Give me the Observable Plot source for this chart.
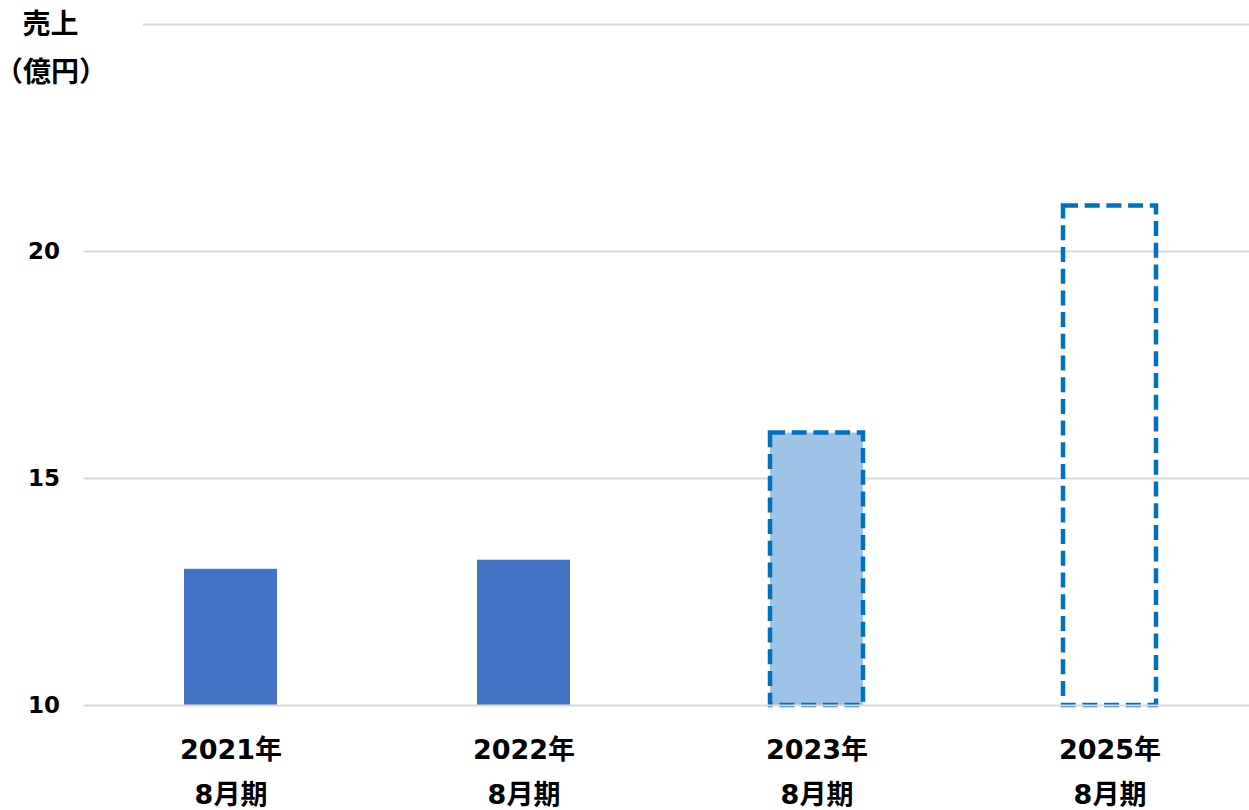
<!DOCTYPE html>
<html>
<head>
<meta charset="utf-8">
<script src="https://cdn.jsdelivr.net/npm/d3@7"></script>
<script src="https://cdn.jsdelivr.net/npm/@observablehq/plot@0.6"></script>
<style>
  html, body { margin: 0; padding: 0; background: #fff; }
  #chart { width: 1249px; height: 810px; }
</style>
</head>
<body>
<div id="chart"></div>
<script>
// Fiscal years (August year-end) and sales in 100 million yen
const years = ["2021年", "2022年", "2023年", "2025年"];
const periods = ["8月期", "8月期", "8月期", "8月期"];
const sales = [13.0, 13.2, 16.0, 21.0];
const yTicks = [10, 15, 20];
const yTop = 25;
const unitLines = ["売上", "（億円）"];

const rows = years.map((year, i) => ({ year, period: periods[i], sales: sales[i] }));
const actual = rows.slice(0, 2);   // results
const outlook = rows.slice(2, 3);  // forecast
const target = rows.slice(3);      // plan

const font = "'DejaVu Sans', 'Noto Sans CJK JP', sans-serif";
const base = yTicks[0];
const grid = "#D9D9D9";
const dashBlue = "#0070C0";

const chart = Plot.plot({
  width: 1249,
  height: 810,
  marginLeft: 83.5,
  marginRight: 0,
  marginTop: 24,
  marginBottom: 105,
  style: { fontFamily: font, fontWeight: "bold", color: "#000", background: "#fff" },
  x: { domain: years, range: [83.5, 1256.7], paddingInner: 0.683, paddingOuter: 0.3415, axis: null, label: null },
  y: { domain: [base, yTop], axis: null, label: null },
  marks: [
    // upper gridlines sit behind the bars
    Plot.ruleY(yTicks.slice(1), { stroke: grid, strokeWidth: 2 }),
    Plot.ruleY([yTop], { stroke: grid, strokeWidth: 2, insetLeft: 59.5 }),
    Plot.barY(actual, { x: "year", y1: base, y2: "sales", fill: "#4472C4" }),
    Plot.barY(outlook, {
      x: "year", y1: base, y2: "sales", fill: "#9DC3E6",
      stroke: dashBlue, strokeWidth: 4.5, strokeDasharray: "15,6.7"
    }),
    Plot.barY(target, {
      x: "year", y1: base, y2: "sales", fill: "none",
      stroke: dashBlue, strokeWidth: 4.5, strokeDasharray: "15,6.7"
    }),
    // baseline drawn over the bar outlines
    Plot.ruleY([base], { stroke: grid, strokeWidth: 2 }),
    Plot.axisY(yTicks, { tickSize: 0, tickPadding: 24, fontSize: 23, fontWeight: "bold", label: null }),
    Plot.axisX({ tickSize: 0, tickPadding: 34, fontSize: 27, fontWeight: "bold", label: null }),
    Plot.axisX({
      tickSize: 0, tickPadding: 79, fontSize: 27, fontWeight: "bold", label: null,
      tickFormat: (d) => periods[years.indexOf(d)]
    }),
    Plot.text([unitLines[0]], {
      text: (d) => d, frameAnchor: "top-left", textAnchor: "middle", lineAnchor: "middle",
      dx: -33.5, dy: 1, fontSize: 28, fontWeight: "bold"
    }),
    Plot.text([unitLines[1]], {
      text: (d) => d, frameAnchor: "top-left", textAnchor: "middle", lineAnchor: "middle",
      dx: -33, dy: 49, fontSize: 28, fontWeight: "bold"
    })
  ]
});

document.getElementById("chart").append(chart);
</script>
</body>
</html>
